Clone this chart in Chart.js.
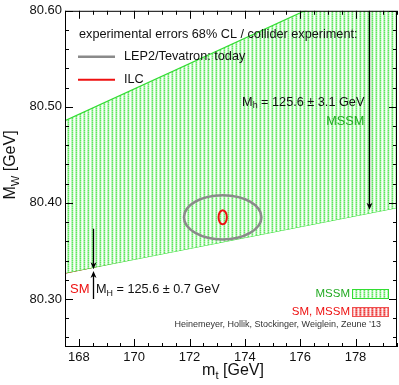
<!DOCTYPE html>
<html>
<head>
<meta charset="utf-8">
<script src="https://cdn.jsdelivr.net/npm/chart.js@4/dist/chart.umd.min.js"></script>
<style>
  html, body { margin: 0; padding: 0; background: #fff; }
  #wrap { width: 399px; height: 385px; }
</style>
</head>
<body>
<div id="wrap"><canvas id="mw-chart"></canvas></div>
<script>
// data
const xRange = [167.5, 179.5];
const yRange = [80.25, 80.60];
const xTicks = [168, 170, 172, 174, 176, 178];
const yTicks = [80.30, 80.40, 80.50, 80.60];

// MSSM band edges (straight lines between the two end points)
const bandX = [167.5, 179.5];
const bandUpper = [80.4857, 80.644];
const bandLower = [80.327, 80.395];
// SM line
const smX = [167.5, 179.5];
const smY = [80.327, 80.400];

// ellipses: centre, half widths
const ellipseNames = ['LEP2/Tevatron: today', 'ILC'];
const ellipseMt = [173.2, 173.2];
const ellipseMw = [80.385, 80.385];
const ellipseDmt = [1.40, 0.15];
const ellipseDmw = [0.023, 0.0073];

// arrows: x, from, to
const arrowX = [178.5, 168.5, 168.5];
const arrowFrom = [80.60, 80.373, 80.300];
const arrowTo = [80.393, 80.331, 80.329];

const FONT = '"Liberation Sans", Arial, Helvetica, sans-serif';
const GREEN = '#33dd33';
const RED = '#ee1111';

function makePattern(cols) {
	const c = document.createElement('canvas');
	c.width = 4; c.height = 4;
	const g = c.getContext('2d');
	for (let i = 0; i < 4; i++) {
		for (let j = 0; j < 4; j++) {
			g.fillStyle = cols[i][j % 2];
			g.fillRect(i, j, 1, 1);
		}
	}
	return g.createPattern(c, 'repeat');
}
const greenHatch = makePattern([['#5ee65e', '#98f098'], ['#d4fad4', '#e6fde6'], ['#ffffff', '#f2fef2'], ['#aef4ae', '#c4f8c4']]);
const redHatch = makePattern([['#ee3c3c', '#f27070'], ['#f7a8a8', '#f9c0c0'], ['#fde6e6', '#fff4f4'], ['#f28484', '#f59e9e']]);

function pts(xs, ys) {
	return xs.map((x, i) => ({ x: x, y: ys[i] }));
}

// text with subscripts: parts = [[text, isSub], ...]
function subText(ctx, parts, x, y, size, align) {
	let w = 0;
	parts.forEach(p => {
		ctx.font = (p[1] ? size * 0.7 : size) + 'px ' + FONT;
		w += ctx.measureText(p[0]).width;
	});
	let cx = align === 'right' ? x - w : (align === 'center' ? x - w / 2 : x);
	ctx.textAlign = 'left';
	ctx.textBaseline = 'middle';
	parts.forEach(p => {
		ctx.font = (p[1] ? size * 0.7 : size) + 'px ' + FONT;
		ctx.fillText(p[0], cx, p[1] ? y + size * 0.3 : y);
		cx += ctx.measureText(p[0]).width;
	});
}

const decor = {
	id: 'decor',
	afterDatasetsDraw(chart) {
		const ctx = chart.ctx;
		const a = chart.chartArea;
		const xs = chart.scales.x, ys = chart.scales.y;
		ctx.save();
		ctx.beginPath();
		ctx.rect(a.left, a.top, a.right - a.left, a.bottom - a.top);
		ctx.clip();

		// ellipses
		const eCol = ['#8a8a8a', RED];
		const eW = [2.5, 2];
		for (let i = 0; i < ellipseMt.length; i++) {
			const cx = xs.getPixelForValue(ellipseMt[i]);
			const cy = ys.getPixelForValue(ellipseMw[i]);
			const rx = xs.getPixelForValue(ellipseMt[i] + ellipseDmt[i]) - cx;
			const ry = cy - ys.getPixelForValue(ellipseMw[i] + ellipseDmw[i]);
			ctx.beginPath();
			ctx.ellipse(cx, cy, rx, ry, 0, 0, Math.PI * 2);
			ctx.strokeStyle = eCol[i];
			ctx.lineWidth = eW[i];
			ctx.stroke();
		}

		// arrows
		ctx.strokeStyle = '#000';
		ctx.fillStyle = '#000';
		ctx.lineWidth = 1.3;
		for (let i = 0; i < arrowX.length; i++) {
			const x = Math.round(xs.getPixelForValue(arrowX[i])) + 0.5;
			const y0 = ys.getPixelForValue(arrowFrom[i]);
			const y1 = ys.getPixelForValue(arrowTo[i]);
			const d = y1 > y0 ? 1 : -1;
			ctx.beginPath();
			ctx.moveTo(x, y0);
			ctx.lineTo(x, y1 - d * 3);
			ctx.stroke();
			ctx.beginPath();
			ctx.moveTo(x, y1);
			ctx.lineTo(x - 3, y1 - d * 7);
			ctx.lineTo(x, y1 - d * 5);
			ctx.lineTo(x + 3, y1 - d * 7);
			ctx.closePath();
			ctx.fill();
		}
		ctx.restore();

		// frame
		ctx.save();
		ctx.strokeStyle = '#000';
		ctx.lineWidth = 1;
		ctx.strokeRect(a.left + 0.5, a.top + 0.5, a.right - a.left - 1, a.bottom - a.top - 1);

		// inward ticks, all four sides
		ctx.beginPath();
		for (let k = 0; k <= 24; k++) {
			const v = 167.5 + k * 0.5;
			const len = (k % 4 === 1) ? 8 : 4;
			const px = Math.round(xs.getPixelForValue(v)) + 0.5;
			ctx.moveTo(px, a.bottom); ctx.lineTo(px, a.bottom - len);
			ctx.moveTo(px, a.top); ctx.lineTo(px, a.top + len);
		}
		for (let k = 0; k <= 17; k++) {
			const v = 80.26 + k * 0.02;
			const len = (k % 5 === 2) ? 8 : 4;
			const py = Math.round(ys.getPixelForValue(v)) + 0.5;
			ctx.moveTo(a.left, py); ctx.lineTo(a.left + len, py);
			ctx.moveTo(a.right, py); ctx.lineTo(a.right - len, py);
		}
		ctx.stroke();

		// legend top left
		ctx.fillStyle = '#111';
		ctx.font = '12.7px ' + FONT;
		ctx.textAlign = 'left';
		ctx.textBaseline = 'middle';
		ctx.fillText('experimental errors 68% CL / collider experiment:', a.left + 14, a.top + 24);
		ctx.lineWidth = 2.5;
		ctx.strokeStyle = '#8a8a8a';
		ctx.beginPath(); ctx.moveTo(a.left + 13, a.top + 46); ctx.lineTo(a.left + 50, a.top + 46); ctx.stroke();
		ctx.fillText(ellipseNames[0], a.left + 59, a.top + 46);
		ctx.lineWidth = 2;
		ctx.strokeStyle = RED;
		ctx.beginPath(); ctx.moveTo(a.left + 13, a.top + 69); ctx.lineTo(a.left + 50, a.top + 69); ctx.stroke();
		ctx.fillText(ellipseNames[1], a.left + 59, a.top + 69);

		// labels
		ctx.fillStyle = '#111';
		subText(ctx, [['M', false], ['h', true], [' = 125.6 \u00b1 3.1 GeV', false]],
			xs.getPixelForValue(178.32), ys.getPixelForValue(80.505), 12.7, 'right');
		ctx.fillStyle = '#22aa22';
		ctx.font = '12.7px ' + FONT;
		ctx.textAlign = 'right';
		ctx.fillText('MSSM', xs.getPixelForValue(178.32), ys.getPixelForValue(80.485));

		ctx.fillStyle = RED;
		ctx.textAlign = 'left';
		ctx.font = '13px ' + FONT;
		ctx.fillText('SM', a.left + 5, ys.getPixelForValue(80.31));
		ctx.fillStyle = '#111';
		subText(ctx, [['M', false], ['H', true], [' = 125.6 \u00b1 0.7 GeV', false]],
			a.left + 31, ys.getPixelForValue(80.31), 12.7, 'left');

		// bottom right legend
		ctx.font = '11.5px ' + FONT;
		ctx.textAlign = 'right';
		ctx.fillStyle = '#22aa22';
		ctx.fillText('MSSM', a.right - 47, a.bottom - 53);
		ctx.fillStyle = RED;
		ctx.fillText('SM, MSSM', a.right - 47, a.bottom - 35);
		ctx.lineWidth = 1;
		ctx.fillStyle = greenHatch;
		ctx.fillRect(a.right - 45, a.bottom - 58, 37, 10);
		ctx.strokeStyle = GREEN;
		ctx.strokeRect(a.right - 44.5, a.bottom - 57.5, 36, 9);
		ctx.fillStyle = redHatch;
		ctx.fillRect(a.right - 45, a.bottom - 40, 37, 10);
		ctx.strokeStyle = '#f05050';
		ctx.strokeRect(a.right - 44.5, a.bottom - 39.5, 36, 9);

		ctx.fillStyle = '#333';
		ctx.font = '9px ' + FONT;
		ctx.fillText('Heinemeyer, Hollik, Stockinger, Weiglein, Zeune \u201913', a.right - 16, a.bottom - 22);

		// axis titles
		ctx.fillStyle = '#111';
		subText(ctx, [['m', false], ['t', true], [' [GeV]', false]], (a.left + a.right) / 2 + 2, 371, 16, 'center');
		ctx.translate(11, 165);
		ctx.rotate(-Math.PI / 2);
		subText(ctx, [['M', false], ['W', true], [' [GeV]', false]], 0, 0, 16, 'center');
		ctx.restore();
	}
};

const chart = new Chart(document.getElementById('mw-chart'), {
	type: 'line',
	data: {
		datasets: [
			{
				data: pts(bandX, bandUpper),
				borderColor: GREEN,
				borderWidth: 1.2,
				backgroundColor: greenHatch,
				fill: 1,
				pointRadius: 0
			},
			{
				data: pts(bandX, bandLower),
				borderColor: GREEN,
				borderWidth: 1.2,
				fill: false,
				pointRadius: 0
			},
			{
				data: pts(smX, smY),
				borderColor: RED,
				borderWidth: 1.6,
				fill: false,
				pointRadius: 0
			}
		]
	},
	options: {
		responsive: true,
		maintainAspectRatio: false,
		animation: false,
		events: [],
		layout: { padding: { left: 20, top: 6, right: 2, bottom: 22 } },
		plugins: {
			legend: { display: false },
			tooltip: { enabled: false }
		},
		scales: {
			x: {
				type: 'linear',
				min: xRange[0],
				max: xRange[1],
				afterFit(s) { s.height = 16; },
				afterBuildTicks(s) { s.ticks = xTicks.map(v => ({ value: v })); },
				grid: { display: false, drawTicks: false },
				border: { display: false },
				ticks: {
					padding: 3,
					color: '#111',
					font: { family: FONT, size: 13 },
					callback: v => String(v)
				}
			},
			y: {
				type: 'linear',
				min: yRange[0],
				max: yRange[1],
				afterFit(s) { s.width = 45; },
				afterBuildTicks(s) { s.ticks = yTicks.map(v => ({ value: v })); },
				grid: { display: false, drawTicks: false },
				border: { display: false },
				ticks: {
					padding: 3,
					color: '#111',
					font: { family: FONT, size: 13 },
					callback: v => v.toFixed(2)
				}
			}
		}
	},
	plugins: [decor]
});
</script>
</body>
</html>
